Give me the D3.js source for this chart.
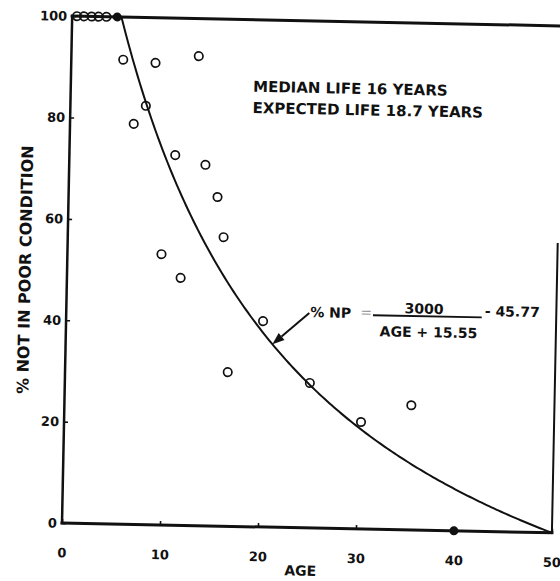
<!DOCTYPE html>
<html>
<head>
<meta charset="utf-8">
<script src="https://cdn.jsdelivr.net/npm/d3@7"></script>
<style>
  body { margin: 0; background: #fff; }
  svg { display: block; }
</style>
</head>
<body>
<svg id="chart" width="560" height="581"></svg>
<script>
// Axis ticks
const ageTicks = [0, 10, 20, 30, 40, 50];
const pctTicks = [0, 20, 40, 60, 80, 100];

// Survey points: age in years, % not in poor condition
const surveyAge = [0.5, 1.2, 2.0, 2.7, 3.5, 5.3, 8.6, 13.0, 7.7, 6.5, 10.8, 13.9, 15.2, 15.9, 9.6, 11.6, 20.1, 16.6, 25.0, 30.3, 35.4];
const surveyPct = [100, 100, 100, 100, 100, 91.6, 91.1, 92.6, 82.6, 79.0, 73.0, 71.2, 64.9, 57.0, 53.4, 48.8, 40.6, 30.4, 28.6, 21.1, 24.6];

// Points sitting on the frame, printed solid
const solidAge = [4.6, 40];
const solidPct = [100, 0];

// Fitted curve: %NP = A / (AGE + B) - C
const fitTerms = [3000, 15.55, 45.77];

const lifeNotes = ["MEDIAN LIFE 16 YEARS", "EXPECTED LIFE 18.7 YEARS"];

const FONT = "'DejaVu Sans', 'Liberation Sans', sans-serif";
const INK = "#111";

const svg = d3.select("#chart");
const W = 490, H = 507, tilt = 1.15;

const x = d3.scaleLinear().domain([0, 50]).range([0, W]);
const y = d3.scaleLinear().domain([0, 100]).range([0, -H]);

const g = svg.append("g")
  .attr("transform", `translate(62,523) rotate(${tilt})`)
  .attr("font-family", FONT)
  .attr("font-weight", "bold")
  .attr("fill", INK);

// Axes: inward ticks, labels outside
const xAxis = d3.axisBottom(x).tickValues(ageTicks).tickSizeInner(-4).tickSizeOuter(0).tickPadding(25);
g.append("g").call(xAxis)
  .call(a => a.select(".domain").remove())
  .call(a => a.selectAll("line").attr("stroke", INK).attr("stroke-width", 1.6))
  .call(a => a.selectAll("text").attr("fill", INK).attr("font-size", 13).attr("font-family", FONT).attr("font-weight", "bold"));

const yAxis = d3.axisLeft(y).tickValues(pctTicks).tickSizeInner(-4).tickSizeOuter(0).tickPadding(5);
g.append("g").call(yAxis)
  .call(a => a.select(".domain").remove())
  .call(a => a.selectAll("line").attr("stroke", INK).attr("stroke-width", 1.6))
  .call(a => a.selectAll("text").attr("fill", INK).attr("font-size", 13).attr("font-family", FONT).attr("font-weight", "bold"));

// Frame
const seg = d3.line().x(d => x(d[0])).y(d => y(d[1]));
const frameParts = [
  { pts: [[0, 100], [50, 100]], w: 3 },
  { pts: [[0, 100], [0, 0]], w: 2.5 },
  { pts: [[0, 0], [50, 0]], w: 3 },
  { pts: [[50, 0], [50, 57]], w: 2 }
];
g.selectAll("path.frame").data(frameParts).join("path")
  .attr("class", "frame")
  .attr("d", d => seg(d.pts))
  .attr("fill", "none")
  .attr("stroke", INK)
  .attr("stroke-width", d => d.w)
  .attr("stroke-linecap", "square");

// Fitted curve, from where it leaves 100% down to age 50
const [A, B, C] = fitTerms;
const fit = a => A / (a + B) - C;
const startAge = A / (100 + C) - B;
const curveAges = d3.range(startAge, 50, 0.25).concat([50]);
g.append("path")
  .datum(curveAges)
  .attr("d", d3.line().x(a => x(a)).y(a => y(fit(a))))
  .attr("fill", "none")
  .attr("stroke", INK)
  .attr("stroke-width", 2);

// Survey points
g.selectAll("circle.pt").data(d3.zip(surveyAge, surveyPct)).join("circle")
  .attr("class", "pt")
  .attr("cx", d => x(d[0]))
  .attr("cy", d => y(d[1]))
  .attr("r", 4.2)
  .attr("fill", "none")
  .attr("stroke", INK)
  .attr("stroke-width", 1.7);

g.selectAll("circle.solid").data(d3.zip(solidAge, solidPct)).join("circle")
  .attr("class", "solid")
  .attr("cx", d => x(d[0]))
  .attr("cy", d => y(d[1]))
  .attr("r", 4.5)
  .attr("fill", INK);

// Life notes
g.selectAll("text.note").data(lifeNotes).join("text")
  .attr("class", "note")
  .attr("x", x(18.6))
  .attr("y", (d, i) => y(i === 0 ? 85.8 : 81.6))
  .attr("font-size", 15)
  .text(d => d);

// Equation
const eq = g.append("g").attr("font-size", 14);
eq.append("text").attr("x", x(24.9)).attr("y", y(41.6)).text("% NP");
eq.append("text").attr("x", x(30.0)).attr("y", y(41.8)).attr("fill", "#999").attr("font-weight", "normal").text("=");
eq.append("line")
  .attr("x1", x(31.3)).attr("x2", x(42.4))
  .attr("y1", y(42.2)).attr("y2", y(42.2))
  .attr("stroke", INK).attr("stroke-width", 1.8);
eq.append("text").attr("x", x(36.5)).attr("y", y(42.7)).attr("text-anchor", "middle").text(String(A));
eq.append("text").attr("x", x(42.7)).attr("y", y(42.5)).text(`- ${C}`);
eq.append("text").attr("x", x(37.0)).attr("y", y(38.1)).attr("text-anchor", "middle").text(`AGE + ${B}`);

// Arrow from the equation to the curve
const tailAge = 24.8, tailPct = 42.4, tipAge = 21.1;
const tail = [x(tailAge), y(tailPct)];
const tip = [x(tipAge), y(fit(tipAge))];
const ang = Math.atan2(tip[1] - tail[1], tip[0] - tail[0]);
const headLen = 12, headHalf = 4.5;
const base = [tip[0] - headLen * Math.cos(ang), tip[1] - headLen * Math.sin(ang)];
g.append("line")
  .attr("x1", tail[0]).attr("y1", tail[1])
  .attr("x2", base[0]).attr("y2", base[1])
  .attr("stroke", INK).attr("stroke-width", 2);
g.append("path")
  .attr("d", d3.line()([
    tip,
    [base[0] + headHalf * Math.sin(ang), base[1] - headHalf * Math.cos(ang)],
    [base[0] - headHalf * Math.sin(ang), base[1] + headHalf * Math.cos(ang)]
  ]) + "Z")
  .attr("fill", INK);

// Axis titles
g.append("text")
  .attr("x", x(24.4)).attr("y", 43)
  .attr("text-anchor", "middle").attr("dy", "0.35em")
  .attr("font-size", 14)
  .text("AGE");

g.append("text")
  .attr("transform", `translate(${x(0) - 42},${y(49.8)}) rotate(-90)`)
  .attr("text-anchor", "middle").attr("dy", "0.35em")
  .attr("font-size", 16)
  .text("% NOT IN POOR CONDITION");
</script>
</body>
</html>
